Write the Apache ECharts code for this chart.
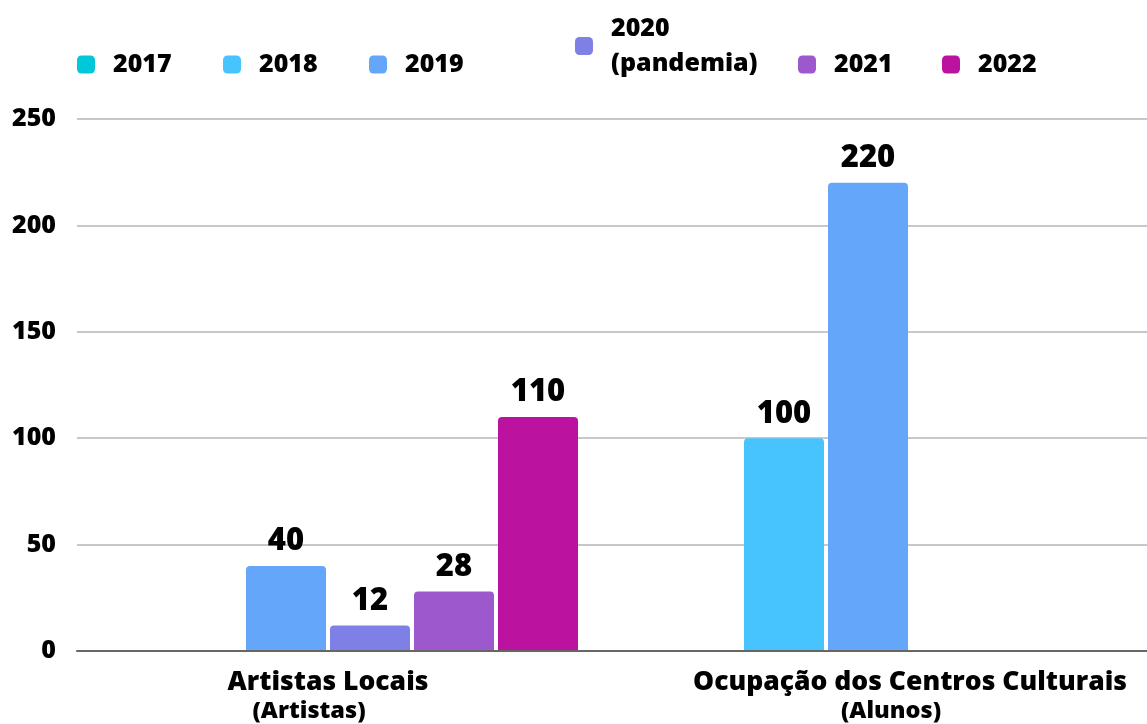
<!DOCTYPE html>
<html>
<head>
<meta charset="utf-8">
<script src="https://cdn.jsdelivr.net/npm/echarts@6/dist/echarts.min.js"></script>
<style>
  html, body { margin: 0; padding: 0; background: #fff; }
  #main { width: 1147px; height: 724px; }
</style>
</head>
<body>
<div id="main"></div>
<script>
var myChart = echarts.init(document.getElementById('main'));

// categories (name + unit on second line)
var catNames = ['Artistas Locais', 'Ocupação dos Centros Culturais'];
var catUnits = ['(Artistas)', '(Alunos)'];

// series per year
var years = ['2017', '2018', '2019', '2020\n(pandemia)', '2021', '2022'];
var colors = ['#00c8da', '#47c4fd', '#64a6fa', '#7f80e6', '#9c58cc', '#bb13a0'];
var v2017 = [null, null];
var v2018 = [null, 100];
var v2019 = [40, 220];
var v2020 = [12, null];
var v2021 = [28, null];
var v2022 = [110, null];
var values = [v2017, v2018, v2019, v2020, v2021, v2022];

// y axis ticks
var yMin = 0, yMax = 250, yStep = 50;

var font = 'Open Sans';
var weight = 800;

// legend x positions, each item placed on its own
var legendLeft = [72, 218, 364, 570, 793, 937];
var legendTop = [42, 42, 42, 6, 42, 42];

var legends = years.map(function (y, i) {
    return {
        data: [y],
        left: legendLeft[i],
        top: legendTop[i],
        itemWidth: 18,
        itemHeight: 18,
        icon: 'roundRect',
        selectedMode: false,
        textStyle: {
            fontFamily: font,
            fontWeight: weight,
            fontSize: 25,
            lineHeight: 35,
            color: '#000',
            padding: [0, 0, 0, 13]
        }
    };
});

var series = years.map(function (y, i) {
    return {
        name: y,
        type: 'bar',
        xAxisIndex: 1,
        yAxisIndex: 1,
        data: values[i],
        barWidth: 80,
        barGap: '5%',
        itemStyle: { color: colors[i], borderRadius: [4, 4, 0, 0] },
        label: {
            show: true,
            position: 'top',
            distance: 9,
            fontFamily: font,
            fontWeight: weight,
            fontSize: 31,
            color: '#000'
        }
    };
});

option = {
    backgroundColor: '#fff',
    animation: false,
    color: colors,
    legend: legends,
    grid: [
        { left: 77, right: 0, top: 119, bottom: 73, outerBoundsMode: 'none' },
        // bars grid is wider than the page, like the cropped original
        { left: 37, width: 1164, top: 119, bottom: 73, outerBoundsMode: 'none', containLabel: false }
    ],
    xAxis: [
        {
            type: 'category',
            gridIndex: 0,
            data: catNames,
            axisLine: { lineStyle: { color: '#666', width: 2 } },
            axisTick: { show: false },
            axisLabel: { show: false },
            z: 10
        },
        {
            type: 'category',
            gridIndex: 1,
            data: catNames,
            axisLine: { show: false },
            axisTick: { show: false },
            axisLabel: {
                margin: 16,
                formatter: function (v, idx) {
                    return '{a|' + v + '}\n{b|' + catUnits[idx] + '}';
                },
                rich: {
                    a: { fontFamily: font, fontWeight: weight, fontSize: 26.5, lineHeight: 30, color: '#000' },
                    b: { fontFamily: font, fontWeight: weight, fontSize: 23.5, lineHeight: 28, color: '#000', padding: [0, 38, 0, 0] }
                }
            }
        }
    ],
    yAxis: [
        {
            type: 'value',
            gridIndex: 0,
            min: yMin,
            max: yMax,
            interval: yStep,
            axisLine: { show: false },
            axisTick: { show: false },
            axisLabel: {
                margin: 21,
                fontFamily: font,
                fontWeight: weight,
                fontSize: 25,
                color: '#000'
            },
            splitLine: { lineStyle: { color: '#c8c8c8', width: 2 } }
        },
        {
            type: 'value',
            gridIndex: 1,
            min: yMin,
            max: yMax,
            interval: yStep,
            show: false,
            splitLine: { show: false }
        }
    ],
    series: series
};

myChart.setOption(option);
</script>
</body>
</html>
